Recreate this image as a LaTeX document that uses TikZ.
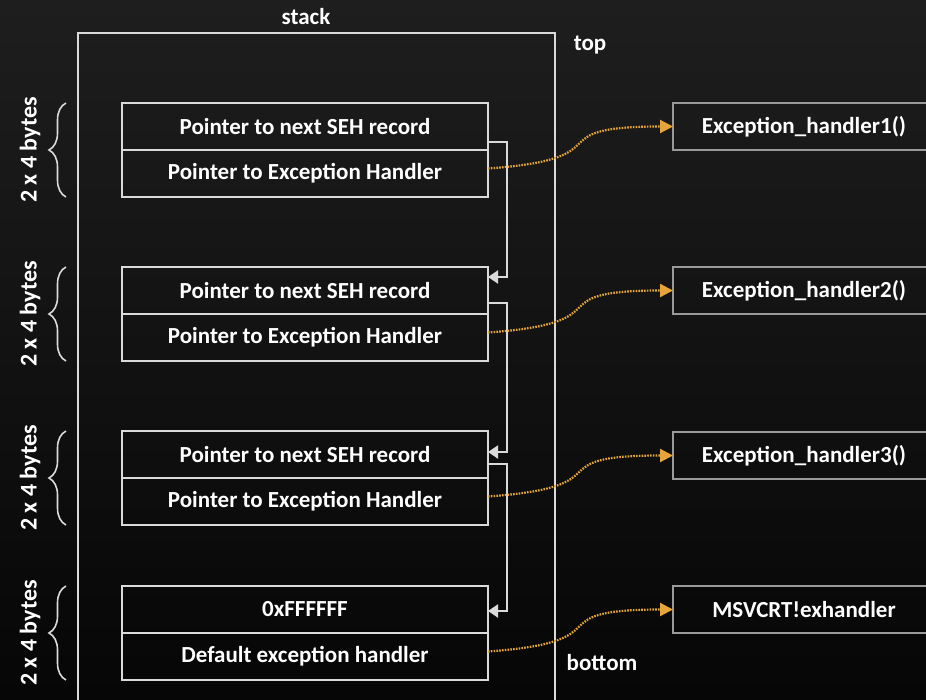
\documentclass[tikz,border=0pt]{standalone}
\usepackage{fontspec}
\setmainfont{Carlito}
\usetikzlibrary{arrows.meta,decorations.pathreplacing,positioning}

\definecolor{bgtop}{HTML}{1E1E1E}
\definecolor{bgbot}{HTML}{060606}
\definecolor{linegray}{HTML}{DADADA}
\definecolor{boxgray}{HTML}{9A9A9A}
\definecolor{dotorange}{HTML}{E6A53A}

\tikzset{
  txt/.style={text=white, font=\bfseries\fontsize{23}{26}\selectfont},
  cell/.style={txt, draw=linegray, line width=2pt, outer sep=0pt, inner sep=0pt,
    minimum width=366pt, minimum height=47pt},
  handler/.style={txt, draw=boxgray, line width=1.6pt, outer sep=0pt, inner sep=0pt,
    minimum width=262pt, minimum height=47pt, anchor=north west},
  frame/.style={draw=linegray, line width=2pt},
  nextlink/.style={draw=linegray, line width=2pt, -{Triangle[length=10pt,width=13pt]}},
  handlink/.style={draw=dotorange, line width=2.2pt, dash pattern=on 1.6pt off 1.2pt,
    -{Triangle[length=13pt,width=13pt]}},
  bytebrace/.style={draw=linegray, line width=1.6pt, decorate,
    decoration={brace, amplitude=17pt}},
  sizelbl/.style={txt, rotate=90, font=\bfseries\fontsize{24}{27}\selectfont},
}

\begin{document}
\begin{tikzpicture}[x=1pt, y=-1pt]
\useasboundingbox (0,0) rectangle (926,699);
\shade[top color=bgtop, bottom color=bgbot] (0,0) rectangle (926,699);

% stack frame, open at the bottom
\draw[frame] (78,710) -- (78,33) -- (555,33) -- (555,710);
\node[txt] (stacklbl) at (306,17) {stack};
\node[txt] (toplbl) at (590,45) {top};
\node[txt] (bottomlbl) at (602,663) {bottom};

% SEH records
\node[cell] (rec1a) at (305,126.5) {Pointer to next SEH record};
\node[cell, below=0pt of rec1a] (rec1b) {Pointer to Exception Handler};
\node[cell] (rec2a) at (305,290.5) {Pointer to next SEH record};
\node[cell, below=0pt of rec2a] (rec2b) {Pointer to Exception Handler};
\node[cell] (rec3a) at (305,454.5) {Pointer to next SEH record};
\node[cell, below=0pt of rec3a] (rec3b) {Pointer to Exception Handler};
\node[cell] (rec4a) at (305,609.5) {0xFFFFFF};
\node[cell, below=0pt of rec4a] (rec4b) {Default exception handler};

% handlers
\node[handler] (h1) at (673,103) {Exception\_handler1()};
\node[handler] (h2) at (673,267) {Exception\_handler2()};
\node[handler] (h3) at (673,432) {Exception\_handler3()};
\node[handler] (h4) at (673,586) {MSVCRT!exhandler};

% chain of next pointers
\foreach \a/\b/\s/\e in {1/2/8/10, 2/3/11/21, 3/4/14/25}
  \draw[nextlink] ([yshift=\s pt]rec\a a.south east) -- ++(19,0)
    |- ([yshift=-\e pt]rec\b a.north east);

% handler pointers
\foreach \i in {1,...,4}
  \draw[handlink] ([yshift=5pt]rec\i b.east) .. controls +(140,-10) and +(-140,0) .. (h\i.west);

% record sizes
\foreach \i in {1,...,4} {
  \draw[bytebrace] ([xshift=-56pt]rec\i b.south west) -- ([xshift=-56pt]rec\i a.north west);
  \node[sizelbl] (size\i) at ([xshift=-92pt]rec\i a.south west) {2 x 4 bytes};
}

\end{tikzpicture}
\end{document}
